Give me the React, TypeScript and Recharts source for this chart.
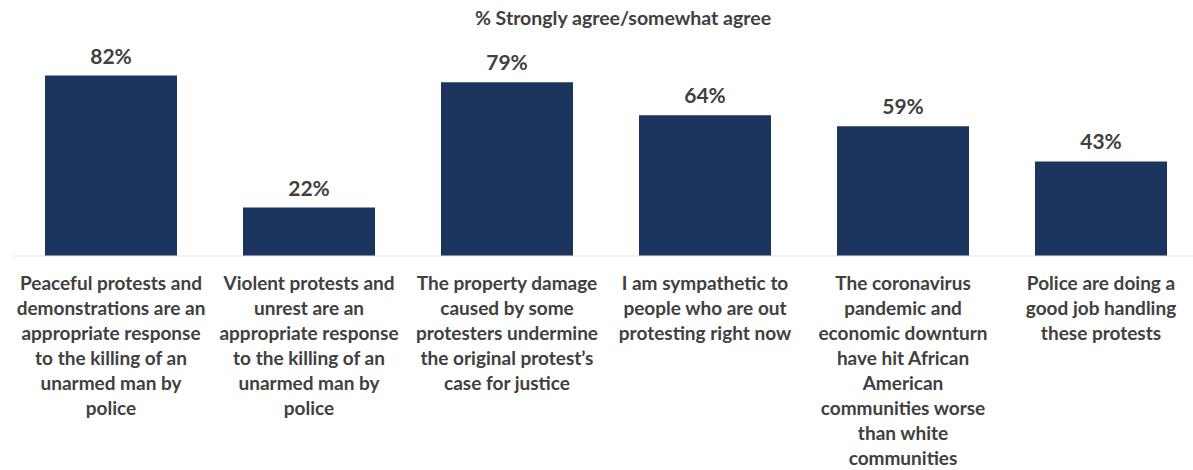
import React from "react";
import { BarChart, Bar, XAxis, YAxis, LabelList } from "recharts";

const categories: string[][] = [
  ["Peaceful protests and", "demonstrations are an", "appropriate response", "to the killing of an", "unarmed man by", "police"],
  ["Violent protests and", "unrest are an", "appropriate response", "to the killing of an", "unarmed man by", "police"],
  ["The property damage", "caused by some", "protesters undermine", "the original protest\u2019s", "case for justice"],
  ["I am sympathetic to", "people who are out", "protesting right now"],
  ["The coronavirus", "pandemic and", "economic downturn", "have hit African", "American", "communities worse", "than white", "communities"],
  ["Police are doing a", "good job handling", "these protests"],
];
const values: number[] = [82, 22, 79, 64, 59, 43];
const title = "% Strongly agree/somewhat agree";

const data = values.map((v, i) => ({ idx: i, value: v }));

const FONT = "Lato, 'Open Sans', sans-serif";
const TEXT = "#404040";

const Tick = (props: any) => {
  const { x, y, payload } = props;
  const lines = categories[payload.value] || [];
  return (
    <g transform={`translate(${x},${y})`}>
      <text textAnchor="middle" fill={TEXT} fontFamily={FONT} fontWeight={700} fontSize={19}>
        {lines.map((l, i) => (
          <tspan key={i} x={0} y={33.5 + i * 25}>{l}</tspan>
        ))}
      </text>
    </g>
  );
};

export default function App() {
  return (
    <div style={{ position: "fixed", left: 0, top: 0, width: 1193, height: 470, overflow: "hidden", background: "#fff" }}>
      <style>{"html,body{margin:0;padding:0;overflow:hidden;}"}</style>
      <BarChart width={1200} height={470} data={data} margin={{ top: 36, right: 0, left: 12, bottom: 0 }} barCategoryGap="16.67%">
        <text x={623} y={25} textAnchor="middle" fill={TEXT} fontFamily={FONT} fontWeight={700} fontSize={19.5}>{title}</text>
        <XAxis dataKey="idx" height={214} tickLine={false} tickSize={0} tickMargin={0} axisLine={{ stroke: "#E6E6E6" }} tick={<Tick />} interval={0} />
        <YAxis hide domain={[0, 100]} />
        <Bar dataKey="value" fill="#1C355E" isAnimationActive={false}>
          <LabelList dataKey="value" position="top" offset={12} formatter={(v: any) => `${v}%`} fill={TEXT} fontFamily={FONT} fontWeight={700} fontSize={21} />
        </Bar>
      </BarChart>
    </div>
  );
}
